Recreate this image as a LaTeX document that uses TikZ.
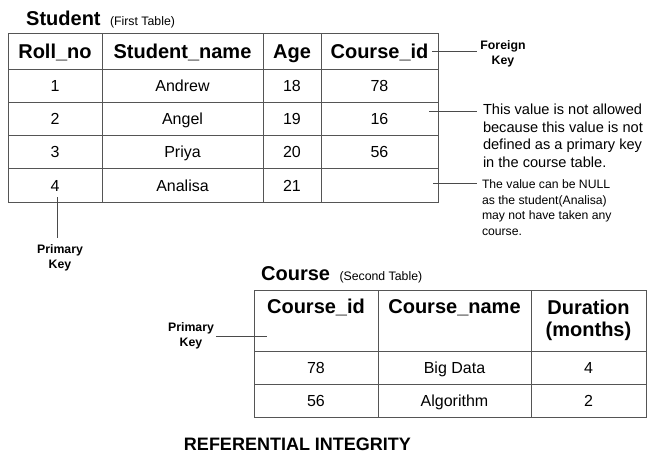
\documentclass[tikz,border=0pt]{standalone}
\usepackage{fontspec}
\setmainfont{Liberation Sans}
\usetikzlibrary{positioning}

\definecolor{gridgray}{HTML}{555555}
\definecolor{linegray}{HTML}{4A4A4A}

\begin{document}
\begin{tikzpicture}[
    x=1pt, y=-1pt,
    node distance=0pt,
    box/.style={draw=gridgray, line width=0.8pt, outer sep=0pt, inner sep=0pt, align=center},
    cell/.style={box, minimum height=33.25pt, text height=11.5pt, text depth=0pt, font=\fontsize{16}{19}\selectfont},
    head/.style={box, minimum height=36pt, text height=14.3pt, text depth=0pt, font=\fontsize{20}{22}\selectfont\bfseries},
    chead/.style={box, minimum height=61pt, font=\fontsize{20}{22}\selectfont\bfseries},
    wroll/.style={minimum width=94pt},
    wname/.style={minimum width=161pt},
    wage/.style={minimum width=58pt},
    wcid/.style={minimum width=117pt},
    wccid/.style={minimum width=124pt},
    wcname/.style={minimum width=153pt},
    wdur/.style={minimum width=115pt},
    tabtitle/.style={inner sep=0pt, font=\fontsize{20}{22}\selectfont\bfseries},
    tabsub/.style={inner sep=0pt, font=\fontsize{12.3}{14}\selectfont},
    keylabel/.style={inner sep=0pt, align=center, font=\fontsize{12.3}{15}\selectfont\bfseries},
    note/.style={inner sep=0pt, outer xsep=6pt, align=left, font=\fontsize{14.6}{17.5}\selectfont},
    smallnote/.style={inner sep=0pt, outer xsep=5pt, align=left, font=\fontsize{12.2}{15.7}\selectfont},
    pointer/.style={draw=linegray, line width=0.8pt}
]
\useasboundingbox (0,0) rectangle (649,455);

% 1. Student table (top)
\node[tabtitle, anchor=base west] (StuTitle) at (26,26) {Student};
\node[tabsub, anchor=base west, xshift=9pt] (StuSub) at (StuTitle.base east) {(First Table)};

\node[head, wroll] (RollH) at (55,51) {Roll\_no};
\node[head, wname, right=of RollH] (NameH) {Student\_name};
\node[head, wage, right=of NameH] (AgeH) {Age};
\node[head, wcid, right=of AgeH] (CidH) {Course\_id};

\node[cell, wroll, below=of RollH] (Roll1) {1};
\node[cell, wname, below=of NameH] (Name1) {Andrew};
\node[cell, wage, below=of AgeH] (Age1) {18};
\node[cell, wcid, below=of CidH] (Cid1) {78};

\node[cell, wroll, below=of Roll1] (Roll2) {2};
\node[cell, wname, below=of Name1] (Name2) {Angel};
\node[cell, wage, below=of Age1] (Age2) {19};
\node[cell, wcid, below=of Cid1] (Cid2) {16};

\node[cell, wroll, below=of Roll2] (Roll3) {3};
\node[cell, wname, below=of Name2] (Name3) {Priya};
\node[cell, wage, below=of Age2] (Age3) {20};
\node[cell, wcid, below=of Cid2] (Cid3) {56};

\node[cell, wroll, below=of Roll3] (Roll4) {4};
\node[cell, wname, below=of Name3] (Name4) {Analisa};
\node[cell, wage, below=of Age3] (Age4) {21};
\node[cell, wcid, below=of Cid3] (Cid4) {};

% 2. Labels round the student table
\node[keylabel, outer xsep=3pt] (ForeignKey) at (503,54) {Foreign\\Key};
\node[note, anchor=north west] (NoteAllowed) at (477,104) {This value is not allowed\\because this value is not\\defined as a primary key\\in the course table.};
\node[smallnote, anchor=north west] (NoteNull) at (477,179.5) {The value can be NULL\\as the student(Analisa)\\may not have taken any\\course.};
\node[keylabel, outer ysep=7pt] (StuPK) at (60,258) {Primary\\Key};

\draw[pointer] ([xshift=-6pt]CidH.east) -- (CidH.east -| ForeignKey.west);
\coordinate (AllowedIn) at ([xshift=-9pt,yshift=7pt]Cid2.east);
\draw[pointer] (AllowedIn) -- (AllowedIn -| NoteAllowed.west);
\coordinate (NullIn) at ([xshift=-5pt,yshift=2pt]Cid4.east);
\draw[pointer] (NullIn) -- (NullIn -| NoteNull.west);
\coordinate (RollIn) at ([xshift=2pt,yshift=5pt]Roll4.south);
\draw[pointer] (RollIn) -- (RollIn |- StuPK.north);

% 3. Course table (bottom)
\node[tabtitle, anchor=base west] (CouTitle) at (261,280) {Course};
\node[tabsub, anchor=base west, xshift=9pt] (CouSub) at (CouTitle.base east) {(Second Table)};

\node[chead, wccid] (CcidH) at (316,320.5) {Course\_id\\\strut};
\node[chead, wcname, right=of CcidH] (CnameH) {Course\_name\\\strut};
\node[chead, wdur, right=of CnameH] (DurH) {Duration\\(months)};

\node[cell, wccid, minimum height=33pt, below=of CcidH] (Ccid1) {78};
\node[cell, wcname, minimum height=33pt, below=of CnameH] (Cname1) {Big Data};
\node[cell, wdur, minimum height=33pt, below=of DurH] (Dur1) {4};

\node[cell, wccid, minimum height=33pt, below=of Ccid1] (Ccid2) {56};
\node[cell, wcname, minimum height=33pt, below=of Cname1] (Cname2) {Algorithm};
\node[cell, wdur, minimum height=33pt, below=of Dur1] (Dur2) {2};

\node[keylabel, outer xsep=2pt] (CouPK) at (191,336) {Primary\\Key};
\draw[pointer] (CouPK.east) -- ([xshift=13pt]CcidH.west |- CouPK.east);

% 4. Caption
\node[tabtitle, font=\fontsize{18}{20}\selectfont\bfseries] (Caption) at (297.5,444) {REFERENTIAL INTEGRITY};

\end{tikzpicture}
\end{document}
